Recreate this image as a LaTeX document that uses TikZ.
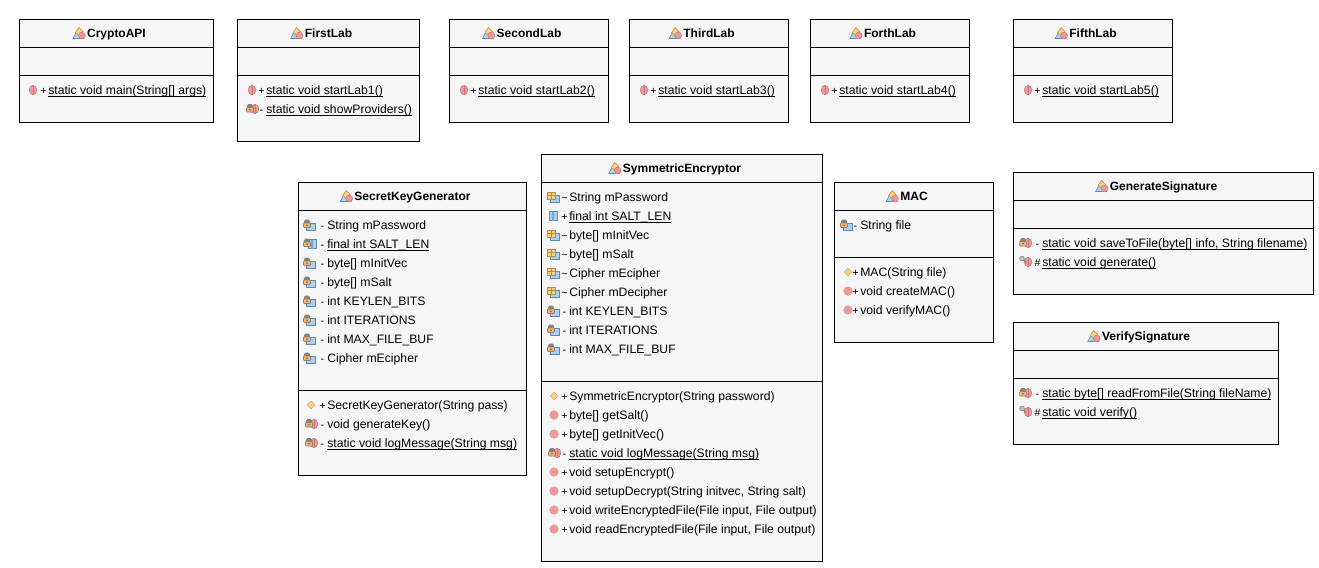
\documentclass[tikz,border=0pt]{standalone}
\usepackage{fontspec}
\setmainfont{Liberation Sans}
\usepackage{tikz}
\definecolor{boxc}{RGB}{246,246,246}
\definecolor{pinkc}{RGB}{240,150,150}
\definecolor{darkpinkc}{RGB}{200,120,120}
\definecolor{bluec}{RGB}{170,210,240}
\definecolor{darkbluec}{RGB}{90,140,185}
\definecolor{orangec}{RGB}{245,210,130}
\definecolor{brownc}{RGB}{190,140,60}
\definecolor{lockc}{RGB}{135,130,125}
\tikzset{
  classbox/.style={draw=black,fill=boxc,line width=0.75pt,anchor=north west,inner sep=0pt,outer sep=0pt},
  classname/.style={font=\fontsize{9}{11}\selectfont\bfseries,inner sep=0pt,anchor=base},
  member/.style={font=\fontsize{9.15}{11}\selectfont,anchor=base west,inner sep=0pt},
  signc/.style={font=\fontsize{8}{11}\selectfont,anchor=base,inner sep=0pt},
  thin line/.style={line width=0.4pt}
}
% static members are underlined close to the baseline
\newcommand{\ulx}[1]{\setbox0=\hbox{#1}\rlap{\rule[-1.9pt]{\wd0}{0.7pt}}\box0}
% small icons, all drawn round (x,y)
\newcommand{\icclass}[2]{\begin{scope}[shift={(#1,#2)}]
  \filldraw[fill=bluec,draw=darkbluec,thin line] (-6,5.5)--(-3,0)--(3,0)--(5,5.5)--cycle;
  \filldraw[fill=orangec,draw=brownc,thin line] (-3.5,-0.5)--(0,-5.5)--(4,-1.5)--(0,2.5)--cycle;
  \filldraw[fill=pinkc,draw=darkpinkc,thin line] (3,2.5) circle (3.4);
\end{scope}}
\newcommand{\icmeth}[2]{\filldraw[fill=pinkc,draw=darkpinkc!70,thin line] (#1,#2) circle (4.3);}
\newcommand{\icsmeth}[2]{\filldraw[fill=pinkc,draw=darkpinkc,thin line] (#1,#2) ellipse (3.8 and 4.8);
  \draw[darkpinkc,thin line] (#1,#2-4.5)--(#1,#2+4.5);}
\newcommand{\iclock}[2]{\filldraw[fill=lockc,draw=lockc,thin line] (#1-2.8,#2-1) -- (#1-2.8,#2-2.5) -- (#1-1.5,#2-4) -- (#1+1.5,#2-4) -- (#1+2.8,#2-2.5) -- (#1+2.8,#2-1) -- cycle;
  \filldraw[fill=orangec!85!red,draw=lockc,thin line,rounded corners=0.6pt] (#1-3.5,#2-1) rectangle (#1+3.5,#2+3.5);
  \fill[brownc!70!black] (#1,#2+1.2) circle (0.9);}
\newcommand{\icpriv}[2]{\icsmeth{#1+3}{#2}\iclock{#1-2}{#2-0.5}}
\newcommand{\icprot}[2]{\icsmeth{#1+3}{#2}
  \draw[lockc,line width=1pt] (#1-3,#2-3.5)--(#1+1,#2+0.5);
  \filldraw[fill=lockc!50,draw=lockc,thin line] (#1-3,#2-3.5) circle (2.4);}
\newcommand{\icdiam}[2]{\filldraw[fill=orangec,draw=brownc!70,thin line] (#1-4,#2)--(#1,#2-4)--(#1+4,#2)--(#1,#2+4)--cycle;}
\newcommand{\icbase}[2]{\filldraw[fill=bluec,draw=darkbluec,thin line] (#1-3,#2-2) rectangle (#1+6,#2+5);}
\newcommand{\icfpriv}[2]{\icbase{#1}{#2}\iclock{#1-2}{#2-1}}
\newcommand{\icfpack}[2]{\icbase{#1}{#2}
  \filldraw[fill=orangec,draw=brownc,thin line] (#1-6,#2-5) rectangle (#1+2,#2+2);
  \draw[brownc,thin line] (#1-2,#2-5)--(#1-2,#2+2) (#1-6,#2-1.5)--(#1+2,#2-1.5);}
\newcommand{\icstat}[2]{\filldraw[fill=bluec,draw=darkbluec,thin line] (#1-4,#2-4.5) rectangle (#1+4,#2+4.5);
  \fill[darkbluec!80] (#1-1,#2-4.5) rectangle (#1+1,#2+4.5);}
\newcommand{\icfspriv}[2]{\icstat{#1+3}{#2}\iclock{#1-2}{#2-1}}
% name, title, x0, y0, x1, y1, y of the second rule
\newcommand{\umlclass}[7]{
  \node[classbox,minimum width={(#5-#3)*0.75pt},minimum height={(#6-#4)*0.75pt}] (#1) at (#3+0.5,#4+0.5) {};
  \draw[line width=0.75pt] (#1.west |- 0,#4+28.5) -- (#1.east |- 0,#4+28.5);
  \draw[line width=0.75pt] (#1.west |- 0,#7+0.5) -- (#1.east |- 0,#7+0.5);
  \node[classname] (#1title) at (#1.north |- 0,#4+18.5) {#2};
  \begin{scope}[shift={(#1title.base west)}]\icclass{-8}{-4.5}\end{scope}
}
% name, icon x, text x, y of first row, rows
\newcommand{\memrows}[5]{
  \foreach \ic/\sg/\tx [count=\i] in {#5}{
    \pgfmathsetmacro{\yy}{#4+19*(\i-1)}
    \csname ic\ic\endcsname{#2}{\yy}
    \node[signc] (#1s\i) at (#3-4.5,\yy+4.5) {\sg};
    \node[member] (#1m\i) at (#3,\yy+4.5) {\tx};
  }
}
\begin{document}
\begin{tikzpicture}[x=0.75pt,y=-0.75pt]
\useasboundingbox (0,0) rectangle (1319,567);
% upper row
\umlclass{crypto}{CryptoAPI}{19}{19}{213}{122}{75}
\memrows{crypto}{33}{48}{90}{smeth/+/\ulx{static void main(String[] args)}}
\umlclass{first}{FirstLab}{237}{19}{419}{141}{75}
\memrows{first}{252}{266}{90}{smeth/+/\ulx{static void startLab1()},priv/-/\ulx{static void showProviders()}}
\umlclass{second}{SecondLab}{449}{19}{608}{122}{75}
\memrows{second}{464}{478}{90}{smeth/+/\ulx{static void startLab2()}}
\umlclass{third}{ThirdLab}{629}{19}{788}{122}{75}
\memrows{third}{644}{658}{90}{smeth/+/\ulx{static void startLab3()}}
\umlclass{forth}{ForthLab}{810}{19}{969}{122}{75}
\memrows{forth}{825}{839}{90}{smeth/+/\ulx{static void startLab4()}}
\umlclass{fifth}{FifthLab}{1013}{19}{1172}{122}{75}
\memrows{fifth}{1028}{1042}{90}{smeth/+/\ulx{static void startLab5()}}
% lower row
\umlclass{secret}{SecretKeyGenerator}{298}{182}{526}{475}{390}
\memrows{secretf}{309}{327}{225}{fpriv/-/String mPassword,fspriv/-/\ulx{final int SALT\_LEN},fpriv/-/byte[] mInitVec,fpriv/-/byte[] mSalt,fpriv/-/int KEYLEN\_BITS,fpriv/-/int ITERATIONS,fpriv/-/int MAX\_FILE\_BUF,fpriv/-/Cipher mEcipher}
\memrows{secretm}{311}{327}{405}{diam/+/SecretKeyGenerator(String pass),priv/-/void generateKey(),priv/-/\ulx{static void logMessage(String msg)}}
\umlclass{symm}{SymmetricEncryptor}{541}{154}{822}{561}{381}
\memrows{symmf}{553}{569}{197}{fpack/\textasciitilde/String mPassword,stat/+/\ulx{final int SALT\_LEN},fpack/\textasciitilde/byte[] mInitVec,fpack/\textasciitilde/byte[] mSalt,fpack/\textasciitilde/Cipher mEcipher,fpack/\textasciitilde/Cipher mDecipher,fpriv/-/int KEYLEN\_BITS,fpriv/-/int ITERATIONS,fpriv/-/int MAX\_FILE\_BUF}
\memrows{symmm}{554}{569}{396}{diam/+/SymmetricEncryptor(String password),meth/+/byte[] getSalt(),meth/+/byte[] getInitVec(),priv/-/\ulx{static void logMessage(String msg)},meth/+/void setupEncrypt(),{meth/+/void setupDecrypt(String initvec, String salt)},{meth/+/void writeEncryptedFile(File input, File output)},{meth/+/void readEncryptedFile(File input, File output)}}
\umlclass{mac}{MAC}{834}{182}{993}{342}{257}
\memrows{macf}{846}{860}{225}{fpriv/-/String file}
\memrows{macm}{848}{860}{272}{diam/+/MAC(String file),meth/+/void createMAC(),meth/+/void verifyMAC()}
\umlclass{gen}{GenerateSignature}{1013}{172}{1313}{294}{228}
\memrows{gen}{1025}{1042}{243}{priv/-/\ulx{static void saveToFile(byte[] info, String filename)},prot/\#/\ulx{static void generate()}}
\umlclass{ver}{VerifySignature}{1013}{322}{1278}{444}{378}
\memrows{ver}{1025}{1042}{393}{priv/-/\ulx{static byte[] readFromFile(String fileName)},prot/\#/\ulx{static void verify()}}
\end{tikzpicture}
\end{document}
